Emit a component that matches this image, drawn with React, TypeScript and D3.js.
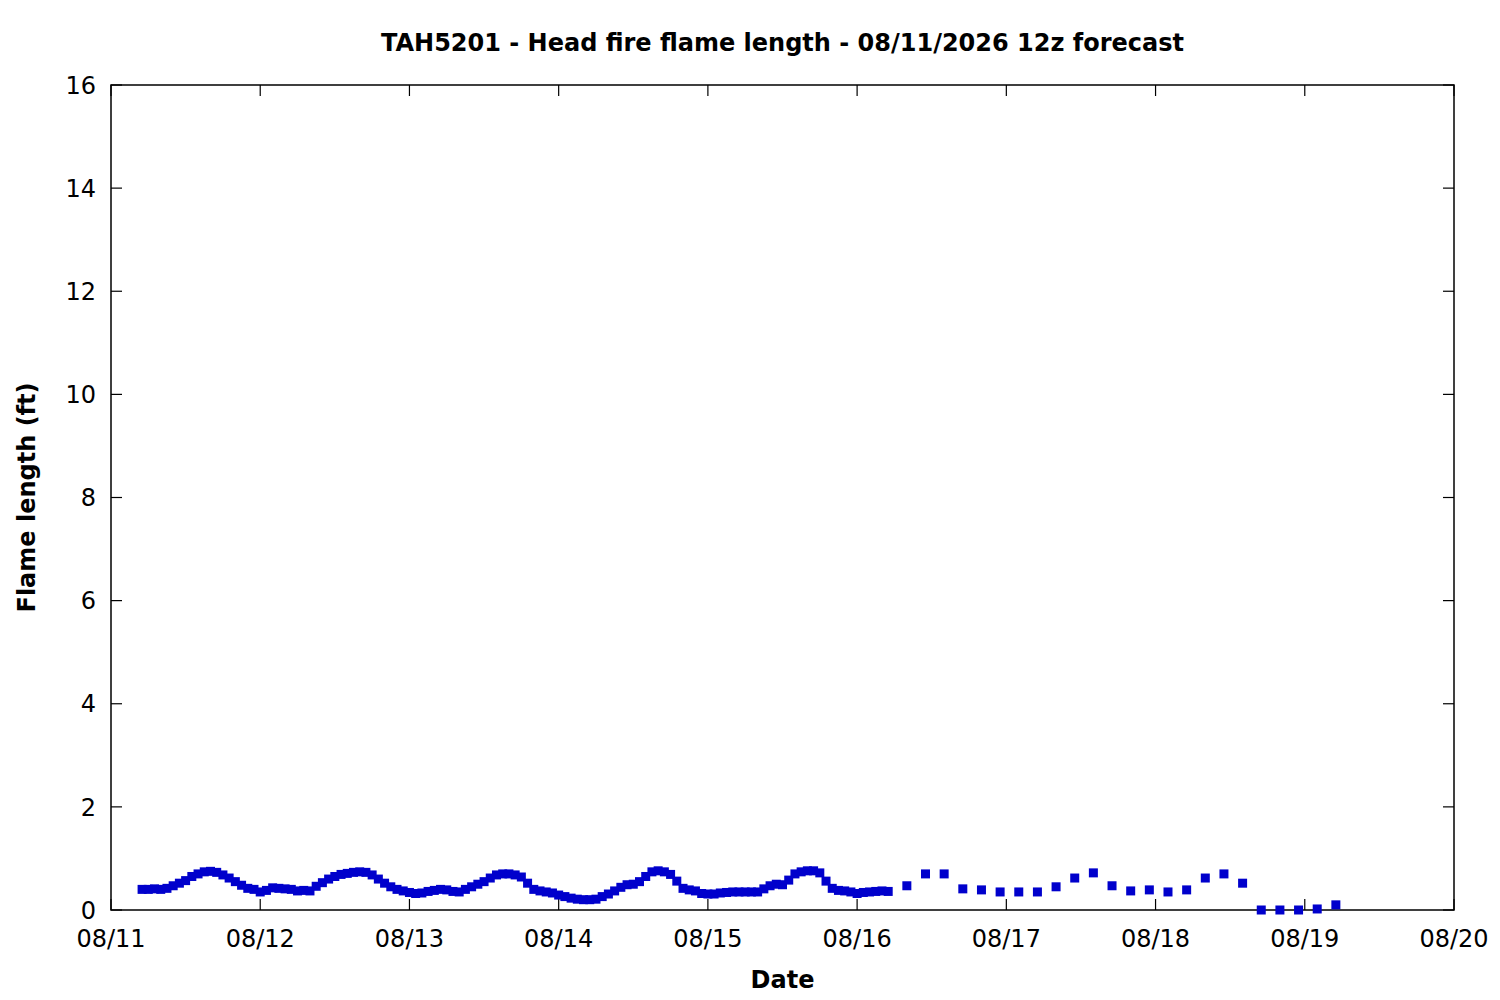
import * as d3 from 'd3'

// Hourly head fire flame length (ft), starting 08/11 05:00
const hourlyStart = '2026-08-11T05:00:00Z'
const hourlyValues = [
  0.40, 0.40, 0.41, 0.40, 0.42, 0.47, 0.52, 0.57, 0.65, 0.70, 0.74, 0.75, 0.73, 0.68, 0.62, 0.55, 0.48, 0.42, 0.40, 0.35,
  0.38, 0.43, 0.42, 0.41, 0.40, 0.37, 0.38, 0.37, 0.46, 0.53, 0.60, 0.65, 0.69, 0.71, 0.73, 0.74, 0.73, 0.68, 0.60, 0.52,
  0.45, 0.40, 0.37, 0.34, 0.32, 0.33, 0.36, 0.38, 0.40, 0.39, 0.36, 0.35, 0.40, 0.45, 0.50, 0.55, 0.62, 0.68, 0.70, 0.70,
  0.68, 0.64, 0.52, 0.40, 0.37, 0.35, 0.33, 0.29, 0.26, 0.23, 0.21, 0.20, 0.20, 0.21, 0.26, 0.31, 0.37, 0.44, 0.49, 0.50,
  0.55, 0.65, 0.74, 0.76, 0.74, 0.69, 0.56, 0.42, 0.39, 0.37, 0.32, 0.31, 0.31, 0.33, 0.34, 0.35, 0.35, 0.35, 0.35, 0.35,
  0.41, 0.47, 0.50, 0.49, 0.58, 0.70, 0.74, 0.76, 0.76, 0.72, 0.56, 0.42, 0.38, 0.37, 0.35, 0.32, 0.34, 0.35, 0.36, 0.37, 0.36
]

// 3-hourly values, starting 08/16 08:00
const threeHourlyStart = '2026-08-16T08:00:00Z'
const threeHourlyValues = [
  0.47, 0.70, 0.70, 0.41, 0.39, 0.35, 0.35, 0.35, 0.45, 0.62, 0.72, 0.47,
  0.37, 0.39, 0.35, 0.39, 0.62, 0.70, 0.52, 0.00, 0.00, 0.00, 0.02, 0.10
]

const yTicks = [0, 2, 4, 6, 8, 10, 12, 14, 16]
const xDomain = ['2026-08-11T00:00:00Z', '2026-08-20T00:00:00Z']

const title = 'TAH5201 - Head fire flame length - 08/11/2026 12z forecast'
const xLabel = 'Date'
const yLabel = 'Flame length (ft)'

const HOUR = 3600 * 1000

function toPoints(start: string, stepHours: number, values: number[]) {
  const t0 = new Date(start).getTime()
  return values.map((v, i) => ({ date: new Date(t0 + i * stepHours * HOUR), value: v }))
}

export default function App() {
  const width = 1500
  const height = 1000
  const margin = { top: 85, right: 46, bottom: 90, left: 111 }

  const x = d3.scaleUtc()
    .domain(xDomain.map(d => new Date(d)))
    .range([margin.left, width - margin.right])
  const y = d3.scaleLinear()
    .domain([0, 16])
    .range([height - margin.bottom, margin.top])

  const points = [
    ...toPoints(hourlyStart, 1, hourlyValues),
    ...toPoints(threeHourlyStart, 3, threeHourlyValues)
  ]

  const xTicks = x.ticks(d3.utcDay.every(1)!)
  const fmt = d3.utcFormat('%m/%d')
  const font = '"DejaVu Sans", sans-serif'
  const fs = 24
  const tickLen = 11
  const [x0, x1] = x.range()
  const [yb, yt] = y.range()
  const sq = 9

  return (
    <svg width={width} height={height} style={{ position: 'absolute', left: 0, top: 0, background: '#fff' }}
      fontFamily={font}>
      <rect x={0} y={0} width={width} height={height} fill="#fff" />
      <text x={(x0 + x1) / 2} y={51} textAnchor="middle" fontSize={fs} fontWeight="bold">{title}</text>

      {/* ticks, mirrored on all sides */}
      {yTicks.map(t => (
        <g key={'y' + t}>
          <line x1={x0} x2={x0 + tickLen} y1={y(t)} y2={y(t)} stroke="#000" strokeWidth={1.2} />
          <line x1={x1} x2={x1 - tickLen} y1={y(t)} y2={y(t)} stroke="#000" strokeWidth={1.2} />
          <text x={96} y={y(t)} dy="0.36em" textAnchor="end" fontSize={fs}>{t}</text>
        </g>
      ))}
      {xTicks.map(d => (
        <g key={'x' + d.getTime()}>
          <line x1={x(d)} x2={x(d)} y1={yb} y2={yb - tickLen} stroke="#000" strokeWidth={1.2} />
          <line x1={x(d)} x2={x(d)} y1={yt} y2={yt + tickLen} stroke="#000" strokeWidth={1.2} />
          <text x={x(d)} y={947} textAnchor="middle" fontSize={fs}>{fmt(d)}</text>
        </g>
      ))}

      <rect x={x0} y={yt} width={x1 - x0} height={yb - yt} fill="none" stroke="#000" strokeWidth={1.5} />

      {points.map((p, i) => (
        <rect key={i} x={x(p.date) - sq / 2} y={y(p.value) - sq / 2} width={sq} height={sq} fill="#0000cc" />
      ))}

      <text x={(x0 + x1) / 2} y={988} textAnchor="middle" fontSize={fs} fontWeight="bold">{xLabel}</text>
      <text transform={`translate(35, ${(yb + yt) / 2}) rotate(-90)`} textAnchor="middle" fontSize={fs}
        fontWeight="bold">{yLabel}</text>
    </svg>
  )
}
